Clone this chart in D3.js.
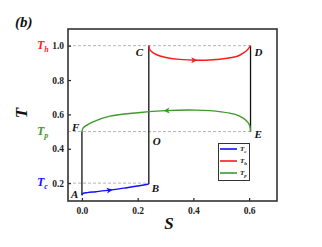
<!DOCTYPE html>
<html><head><meta charset="utf-8">
<script src="https://cdn.jsdelivr.net/npm/d3@7/dist/d3.min.js"></script>
<style>body{margin:0;background:#fff}svg{display:block}</style>
</head><body>
<svg id="c" width="322" height="247"></svg>
<script>
const xTicks = [0.0, 0.2, 0.4, 0.6];
const yTicks = [0.2, 0.4, 0.6, 0.8, 1.0];
const blueS = [0, 0.004, 0.02, 0.05, 0.1, 0.15, 0.2, 0.24];
const blueT = [0.13, 0.14, 0.145, 0.15, 0.159, 0.171, 0.183, 0.195];
const redS = [0.24, 0.244, 0.256, 0.28, 0.305, 0.35, 0.41, 0.47, 0.52, 0.56, 0.58, 0.595, 0.605];
const redT = [1.0, 0.975, 0.958, 0.94, 0.93, 0.92, 0.915, 0.918, 0.927, 0.94, 0.958, 0.978, 1.0];
const greenS = [0.605, 0.603, 0.595, 0.58, 0.55, 0.5, 0.41, 0.3, 0.2, 0.1, 0.04, 0.018, 0.004, 0];
const greenT = [0.5, 0.53, 0.555, 0.577, 0.6, 0.615, 0.625, 0.622, 0.61, 0.59, 0.557, 0.538, 0.52, 0.5];
const blackS = [[0, 0], [0.24, 0.24], [0.605, 0.605]];
const blackT = [[0.13, 0.5], [0.195, 1.0], [0.5, 1.0]];
const dashT = [1.0, 0.5, 0.2];
const dashEndS = [0.605, 0.605, 0.24];
const pointLabels = ["A", "B", "C", "D", "E", "F", "O"];
const pointS = [0, 0.24, 0.24, 0.605, 0.605, 0, 0.24];
const pointT = [0.13, 0.195, 1.0, 1.0, 0.5, 0.5, 0.5];
const legendNames = ["c", "h", "p"];
const colors = ["#1010ff", "#ff1a1a", "#3e9a2a"];

const svg = d3.select("#c");
const L = 68, R = 277, T = 29, B = 201;
const x = d3.scaleLinear().domain([-0.05, 0.70]).range([L, R]);
const y = d3.scaleLinear().domain([0.096, 1.097]).range([B, T]);
const serif = "'Liberation Serif','Times New Roman',serif";

// dashed guides
dashT.forEach((t, i) => {
  svg.append("line").attr("x1", L).attr("x2", x(dashEndS[i]))
    .attr("y1", y(t)).attr("y2", y(t))
    .attr("stroke", "#b5b5b5").attr("stroke-width", 1).attr("stroke-dasharray", "3,2");
});

// axes
const ax = svg.append("g").attr("transform", `translate(0,${B})`)
  .call(d3.axisBottom(x).tickValues(xTicks).tickFormat(d3.format(".1f")).tickSizeInner(-3).tickSizeOuter(0).tickPadding(6));
const ay = svg.append("g").attr("transform", `translate(${L},0)`)
  .call(d3.axisLeft(y).tickValues(yTicks).tickFormat(d3.format(".1f")).tickSizeInner(-3).tickSizeOuter(0).tickPadding(4));
[ax, ay].forEach(g => {
  g.select(".domain").remove();
  g.selectAll(".tick line").attr("stroke", "#222").attr("stroke-width", 1.2);
  g.selectAll(".tick text").attr("font-family", serif).attr("font-weight", "bold").attr("font-size", 9.5).attr("fill", "#222");
});
svg.append("rect").attr("x", L).attr("y", T).attr("width", R - L).attr("height", B - T)
  .attr("fill", "none").attr("stroke", "#333").attr("stroke-width", 1.6);

// black verticals
blackS.forEach((s, i) => {
  svg.append("line").attr("x1", x(s[0])).attr("x2", x(s[1]))
    .attr("y1", y(blackT[i][0])).attr("y2", y(blackT[i][1]))
    .attr("stroke", "#111").attr("stroke-width", 1.3);
});

const lineCR = d3.line().x(d => x(d[0])).y(d => y(d[1])).curve(d3.curveCatmullRom.alpha(0.5));
function curve(S, Tt, col, arrowS) {
  const pts = S.map((s, i) => [s, Tt[i]]);
  const p = svg.append("path").attr("d", lineCR(pts)).attr("fill", "none")
    .attr("stroke", col).attr("stroke-width", 1.4);
  const node = p.node(), len = node.getTotalLength();
  const xt = x(arrowS);
  let best = 0, bd = 1e9;
  for (let l = 0; l <= len; l += 0.5) {
    const q = node.getPointAtLength(l);
    if (Math.abs(q.x - xt) < bd) { bd = Math.abs(q.x - xt); best = l; }
  }
  const a = node.getPointAtLength(best), b = node.getPointAtLength(Math.min(len, best + 1));
  const ang = Math.atan2(b.y - a.y, b.x - a.x) * 180 / Math.PI;
  svg.append("path").attr("d", "M0,0 L-6,-3 L-4.5,0 L-6,3 Z")
    .attr("transform", `translate(${a.x},${a.y}) rotate(${ang})`).attr("fill", col);
}
curve(blueS, blueT, colors[0], 0.111);
curve(redS, redT, colors[1], 0.413);
curve(greenS, greenT, colors[2], 0.292);

// point labels
const offs = {A: [-11, 3], B: [3, 8], C: [-13, 10], D: [4, 10], E: [4, 6], F: [-10, -1], O: [4, 13]};
pointLabels.forEach((n, i) => {
  svg.append("text").attr("x", x(pointS[i]) + offs[n][0]).attr("y", y(pointT[i]) + offs[n][1])
    .attr("font-family", serif).attr("font-style", "italic").attr("font-weight", "bold")
    .attr("font-size", 11).attr("fill", "#111").text(n);
});

// T_c, T_h, T_p labels on y axis
const sideT = [0.2, 1.0, 0.5];
legendNames.forEach((n, i) => {
  const t = svg.append("text").attr("x", 37).attr("y", y(sideT[i]) + 3)
    .attr("font-family", serif).attr("font-style", "italic").attr("font-weight", "bold")
    .attr("font-size", 12).attr("fill", colors[i]);
  t.append("tspan").text("T");
  t.append("tspan").attr("font-size", 8).attr("dy", 3).text(n);
});

// titles
svg.append("text").attr("x", 15).attr("y", 27).attr("font-family", serif).attr("font-style", "italic")
  .attr("font-weight", "bold").attr("font-size", 15).attr("fill", "#111").text("(b)");
svg.append("text").attr("x", 169).attr("y", 229).attr("text-anchor", "middle").attr("font-family", serif)
  .attr("font-style", "italic").attr("font-weight", "bold").attr("font-size", 17).attr("fill", "#111").text("S");
svg.append("text").attr("transform", "translate(27,113) rotate(-90)").attr("text-anchor", "middle")
  .attr("font-family", serif).attr("font-style", "italic").attr("font-weight", "bold")
  .attr("font-size", 17).attr("fill", "#111").text("T");

// legend
const lg = svg.append("g");
lg.append("rect").attr("x", 218.5).attr("y", 143.5).attr("width", 31).attr("height", 37)
  .attr("fill", "#fff").attr("stroke", "#333").attr("stroke-width", 1);
legendNames.forEach((n, i) => {
  const yy = 149 + i * 12;
  lg.append("line").attr("x1", 220).attr("x2", 237).attr("y1", yy).attr("y2", yy)
    .attr("stroke", colors[i]).attr("stroke-width", 1.6);
  const t = lg.append("text").attr("x", 240).attr("y", yy + 2).attr("font-family", serif)
    .attr("font-style", "italic").attr("font-weight", "bold").attr("font-size", 7).attr("fill", "#111");
  t.append("tspan").text("T");
  t.append("tspan").attr("font-size", 5).attr("dy", 2).text(n);
});
</script>
</body></html>
